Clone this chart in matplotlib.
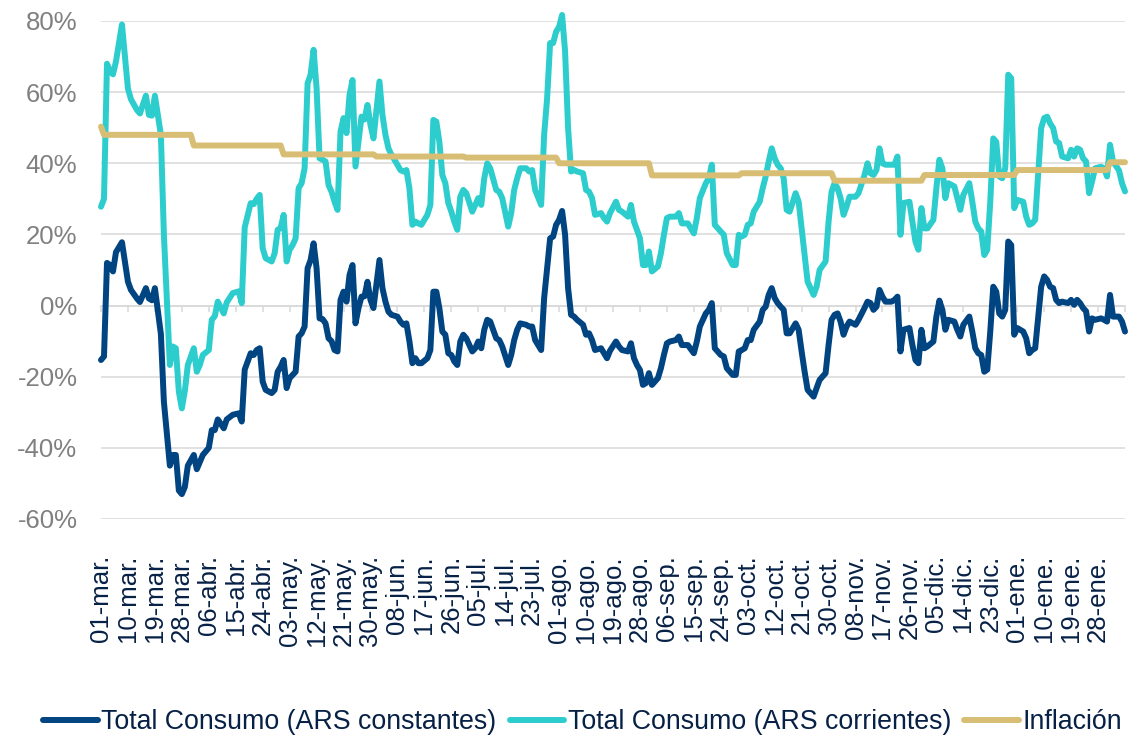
import matplotlib
matplotlib.use("Agg")
import matplotlib.pyplot as plt
import matplotlib.dates as mdates
import pandas as pd

plt.rcParams['font.family'] = ['Liberation Sans', 'DejaVu Sans']

# dias desde el 01-mar-2020
dia = [0, 1, 2, 3, 4, 5, 7, 9, 10, 12, 13, 15, 16, 17, 18, 20, 21, 23, 24, 25,
       26, 27, 28, 29, 31, 32, 33, 34, 36, 37, 38, 39, 41, 42, 44, 46, 47, 48, 50, 51,
       52, 53, 54, 55, 57, 58, 59, 60, 61, 62, 63, 64, 65, 66, 67, 68, 69, 70, 71, 72,
       73, 74, 75, 76, 77, 78, 79, 80, 81, 82, 83, 84, 85, 86, 87, 88, 89, 90, 91, 93,
       94, 95, 96, 97, 99, 100, 101, 102, 103, 104, 105, 106, 107, 109, 110, 111, 112, 113, 114, 115,
       116, 117, 118, 119, 120, 121, 122, 124, 125, 126, 127, 128, 129, 130, 132, 133, 134, 136, 137, 138,
       139, 140, 142, 143, 144, 145, 147, 148, 149, 150, 151, 152, 153, 154, 155, 156, 157, 158, 159, 161,
       162, 163, 164, 165, 167, 168, 169, 170, 172, 173, 174, 176, 177, 178, 179, 180, 181, 182, 183, 184,
       186, 187, 188, 189, 190, 192, 193, 194, 196, 198, 199, 200, 202, 203, 204, 205, 207, 208, 209, 211,
       212, 213, 214, 215, 216, 217, 218, 220, 221, 222, 223, 224, 225, 226, 227, 228, 229, 230, 232, 233,
       234, 235, 236, 238, 239, 240, 242, 243, 244, 245, 246, 247, 248, 249, 250, 252, 253, 255, 256, 257,
       258, 259, 260, 261, 262, 264, 265, 266, 267, 268, 270, 271, 272, 273, 274, 275, 276, 278, 279, 280,
       281, 282, 283, 285, 286, 287, 288, 290, 291, 292, 293, 294, 295, 296, 297, 298, 299, 300, 301, 302,
       303, 304, 305, 306, 308, 309, 310, 311, 312, 314, 315, 316, 317, 318, 319, 320, 321, 323, 324, 325,
       326, 327, 328, 329, 330, 331, 332, 334, 335, 336, 337, 338, 340, 341, 342]

constantes = [-15.3, -14.3, 12.0, 11.4, 9.6, 15.0, 17.8, 6.7, 4.4, 2.0, 1.0, 4.9, 2.0, 1.5, 4.9, -8.0, -27.0, -45.0, -42.0, -42.0,
              -52.0, -53.0, -51.0, -45.0, -42.0, -46.0, -44.0, -42.0, -40.0, -35.0, -35.0, -32.0, -34.5, -32.0, -30.7, -30.3, -32.6, -18.0, -13.4, -13.9,
              -12.5, -12.0, -21.4, -23.7, -24.6, -23.7, -18.6, -17.2, -15.3, -23.2, -20.4, -19.5, -18.6, -8.7, -7.8, -5.9, 10.5, 12.8, 17.5, 10.5,
              -3.6, -3.8, -5.0, -9.2, -10.0, -12.5, -12.9, 1.6, 3.9, 1.1, 8.6, 11.4, -5.0, -0.7, 2.5, 2.6, 6.7, 1.6, -0.7, 12.8,
              4.9, 1.1, -1.7, -2.6, -3.1, -4.5, -5.4, -5.0, -10.0, -16.2, -14.8, -16.2, -16.2, -14.8, -12.5, 3.9, 3.9, -0.7, -7.3, -8.2,
              -13.4, -13.9, -15.7, -16.7, -10.1, -8.2, -9.2, -12.9, -12.0, -10.1, -12.0, -6.8, -4.0, -4.5, -9.2, -9.7, -11.5, -16.7, -13.9, -9.7,
              -6.8, -5.0, -5.4, -5.9, -5.9, -9.7, -12.5, 2.1, 10.5, 18.9, 19.4, 22.7, 24.1, 26.6, 19.9, 4.9, -2.6, -3.1, -4.0, -5.4,
              -8.2, -7.8, -9.7, -12.5, -12.0, -13.4, -14.8, -12.7, -10.1, -11.5, -12.5, -12.9, -10.6, -14.8, -16.7, -18.1, -22.3, -21.8, -19.0, -22.3,
              -20.4, -17.6, -13.9, -10.6, -10.1, -9.7, -8.7, -11.1, -11.1, -13.4, -10.1, -5.9, -2.2, -1.2, 0.7, -12.0, -13.9, -14.3, -17.6, -19.5,
              -19.5, -12.9, -12.5, -12.0, -9.7, -9.7, -6.8, -4.5, -1.2, -0.3, 3.0, 4.9, 2.1, 0.7, -0.3, -1.2, -7.8, -7.8, -5.0, -6.8,
              -12.9, -18.6, -23.7, -25.6, -23.2, -20.9, -19.0, -11.1, -4.0, -2.6, -2.2, -4.5, -8.2, -5.9, -4.5, -5.4, -4.0, -0.7, 1.1, 0.7,
              -1.2, -0.3, 4.4, 2.5, 1.1, 1.1, 1.6, 2.5, -12.9, -6.8, -6.3, -11.1, -15.3, -16.2, -6.8, -12.0, -11.5, -10.1, -3.1, 1.4,
              -1.2, -6.8, -4.0, -4.5, -6.8, -8.7, -5.4, -3.1, -7.3, -12.0, -13.4, -13.9, -18.6, -18.0, -7.3, 5.3, 3.9, -2.2, -3.1, -1.2,
              18.0, 17.0, -8.2, -6.3, -7.3, -9.2, -13.4, -12.5, -12.0, 5.3, 8.2, 7.2, 5.3, 4.9, 1.6, 0.7, 1.1, 0.7, 1.6, 0.2,
              1.6, 0.7, -0.7, -1.6, -7.3, -3.6, -4.0, -3.6, -4.0, -4.5, 3.0, -3.1, -3.1, -4.5, -7.3]

corrientes = [27.8, 30.0, 68.0, 66.0, 65.0, 68.6, 79.0, 61.0, 58.0, 55.0, 54.0, 59.0, 53.6, 53.4, 59.0, 48.0, 20.0, -16.7, -11.5, -12.0,
              -24.2, -28.9, -24.0, -16.7, -12.0, -18.6, -16.7, -13.9, -12.5, -4.0, -3.0, 1.1, -2.2, 0.9, 3.5, 4.0, 0.7, 22.0, 28.8, 28.5,
              30.0, 31.1, 16.1, 13.3, 12.4, 14.7, 21.3, 21.8, 25.5, 12.4, 15.7, 17.0, 18.9, 33.0, 34.4, 38.6, 62.5, 64.9, 71.9, 61.1,
              41.4, 41.0, 40.5, 33.9, 32.0, 29.2, 26.9, 48.9, 52.7, 48.5, 59.2, 63.4, 39.1, 46.1, 53.1, 52.3, 56.4, 50.8, 47.0, 63.0,
              53.6, 48.0, 44.2, 42.4, 39.6, 38.1, 37.7, 38.1, 33.0, 22.7, 23.6, 23.1, 22.7, 25.5, 28.3, 52.2, 51.7, 46.1, 36.7, 34.4,
              28.8, 26.4, 23.6, 21.3, 30.6, 32.5, 31.6, 26.4, 28.3, 30.2, 28.3, 35.8, 40.0, 38.6, 32.5, 32.0, 30.2, 22.2, 26.0, 32.5,
              35.8, 38.6, 38.6, 37.7, 38.1, 32.5, 28.3, 48.0, 58.3, 73.8, 73.8, 77.0, 78.4, 81.7, 71.4, 49.9, 37.7, 38.1, 37.7, 37.2,
              32.5, 32.0, 30.2, 25.5, 26.0, 24.6, 23.6, 26.0, 29.2, 26.9, 26.4, 25.0, 28.3, 23.6, 21.3, 18.9, 11.4, 11.4, 15.2, 9.6,
              11.0, 14.7, 19.9, 24.6, 25.0, 25.0, 26.0, 23.1, 23.1, 20.3, 24.6, 30.2, 34.4, 35.8, 39.6, 22.7, 20.8, 19.9, 14.7, 11.4,
              11.4, 19.9, 19.4, 19.9, 22.7, 23.1, 26.4, 29.2, 33.0, 36.3, 40.5, 44.2, 41.4, 39.6, 38.6, 35.8, 26.9, 26.4, 31.6, 29.2,
              21.7, 14.2, 6.7, 3.0, 5.3, 10.0, 12.4, 23.6, 32.0, 34.4, 33.0, 30.2, 25.5, 27.8, 30.6, 30.6, 31.6, 36.7, 40.0, 37.2,
              36.7, 38.1, 44.2, 40.0, 39.6, 39.6, 39.6, 41.9, 19.9, 28.8, 29.2, 23.6, 18.0, 15.7, 27.4, 21.7, 21.7, 24.1, 33.0, 41.0,
              38.6, 30.2, 34.4, 33.5, 30.2, 26.9, 31.1, 34.4, 29.2, 23.6, 21.7, 20.8, 14.2, 15.7, 29.2, 47.0, 46.0, 36.3, 35.8, 38.6,
              64.9, 63.9, 27.4, 29.7, 29.2, 25.0, 22.7, 23.1, 24.1, 49.9, 52.7, 53.1, 51.2, 49.9, 46.1, 45.7, 41.9, 41.4, 43.8, 41.9,
              44.2, 43.8, 41.4, 40.5, 31.6, 34.9, 38.6, 39.0, 38.6, 36.3, 45.2, 40.5, 38.0, 34.4, 32.1]

# inflacion interanual (cambia al inicio de cada mes)
fechas_inflacion = ['2020-03-01', '2020-03-02', '2020-04-01', '2020-05-01', '2020-06-01', '2020-07-01',
                    '2020-08-01', '2020-09-01', '2020-10-01', '2020-11-01', '2020-12-01', '2021-01-01',
                    '2021-02-01']
inflacion = [50.3, 48.0, 45.0, 42.5, 41.9, 41.6, 40.0, 36.6, 37.2, 35.1, 36.7, 38.1, 40.3]

meses = ['ene.', 'feb.', 'mar.', 'abr.', 'may.', 'jun.', 'jul.', 'ago.', 'sep.', 'oct.', 'nov.', 'dic.']

NAVY = '#004481'
AQUA = '#2DCCCD'
SAND = '#D8BE75'
TEXT = '#072146'
GRID = '#D9D9D9'

inicio = pd.Timestamp('2020-03-01')
fin = pd.Timestamp('2021-02-06')
x = mdates.date2num(inicio + pd.to_timedelta(dia, unit='D'))

serie_infl = pd.Series(inflacion, index=pd.to_datetime(fechas_inflacion))
serie_infl = serie_infl.reindex(pd.date_range(inicio, fin, freq='D')).ffill()
x_infl = mdates.date2num(serie_infl.index)

W, H = 1132, 739
fig = plt.figure(figsize=(W / 100, H / 100), dpi=100)
ax = fig.add_axes([101 / W, 1 - 519 / H, (1125 - 101) / W, (519 - 21) / H])

estilo = dict(lw=4.3, solid_capstyle='round', solid_joinstyle='round', clip_on=False)
ax.plot(x, constantes, color=NAVY, label='Total Consumo (ARS constantes)', **estilo)
ax.plot(x, corrientes, color=AQUA, label='Total Consumo (ARS corrientes)', **estilo)
ax.plot(x_infl, serie_infl.values, color=SAND, label='Inflación', **estilo)

ax.set_ylim(-60, 80)
ax.set_xlim(mdates.date2num(inicio), mdates.date2num(fin))

yt = list(range(-60, 81, 20))
ax.set_yticks(yt)
ax.set_yticklabels([f'{v}%' for v in yt])
ax.tick_params(axis='y', length=0, pad=17, labelsize=18.5, labelcolor='#808080')

ticks = pd.date_range(inicio, fin, freq='9D')
xt = mdates.date2num(ticks)
ax.set_xticks(xt)
etiquetas = [f'{d.day:02d}-{meses[d.month - 1]}' for d in ticks]
etiquetas[-1] = ''
ax.set_xticklabels(etiquetas, rotation=90, ha='center', va='top')
ax.tick_params(axis='x', length=0, pad=26, labelsize=18.5, labelcolor=TEXT)

ax.yaxis.grid(True, color=GRID, lw=1.1)
ax.set_axisbelow(True)
for s in ax.spines.values():
    s.set_visible(False)

# eje en 0% con marcas hacia abajo
eje0 = ax.secondary_xaxis(60 / 140)
eje0.set_xticks(xt)
eje0.tick_params(axis='x', length=4.5, width=1.1, color=GRID, labelbottom=False, labeltop=False)
for s in eje0.spines.values():
    s.set_color(GRID)
    s.set_linewidth(1.1)

fig.legend(loc='center', bbox_to_anchor=(0.5146, 0.023), ncol=3, frameon=False,
           fontsize=19.3, handlelength=2.05, handletextpad=0.12, columnspacing=0.5,
           labelcolor=TEXT)

fig.savefig('out.png', dpi=100)
